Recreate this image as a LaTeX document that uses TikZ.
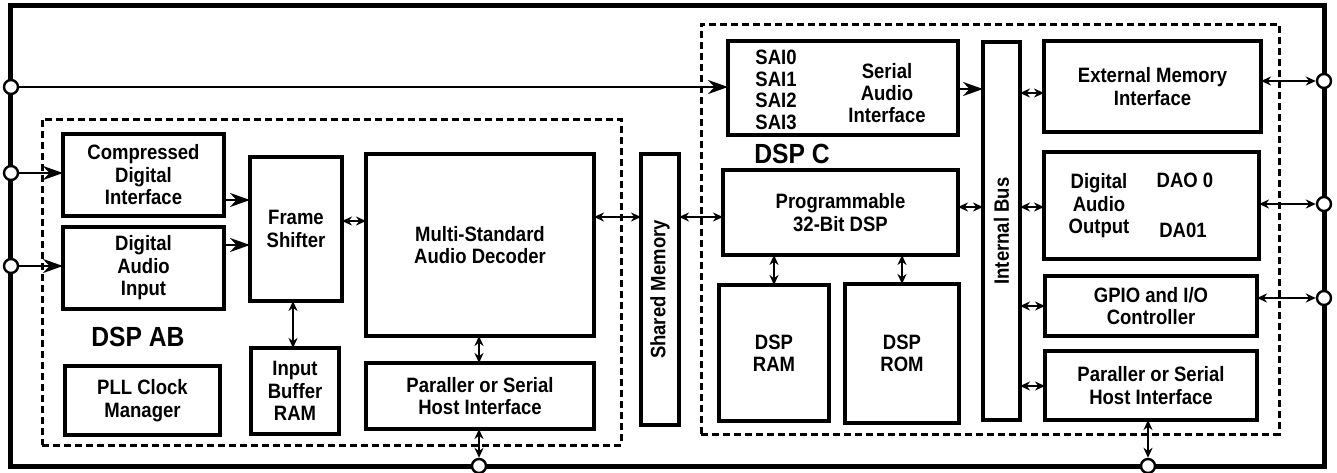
\documentclass[tikz,border=0pt]{standalone}
\usepackage{fontspec}
\usepackage{graphicx}
\setmainfont{Liberation Sans}[FakeStretch=0.89]
\usetikzlibrary{arrows.meta}

\tikzset{
  blk/.style={draw, line width=3.2pt, align=center, inner sep=0pt, outer sep=0pt},
  grp/.style={draw, line width=3pt, dash pattern=on 7pt off 4pt, inner sep=0pt},
  jack/.style={draw, circle, fill=white, line width=2.4pt, minimum size=14pt, inner sep=0pt},
  sig/.style={line width=2.5pt, -{Stealth[length=20pt, width=14pt]}},
  dbl/.style={line width=2.5pt, {Stealth[length=10pt, width=9pt]}-{Stealth[length=10pt, width=9pt]}},
  lbl/.style={font=\fontsize{27.7}{30}\selectfont\bfseries},
}

\begin{document}
\begin{tikzpicture}[x=1pt, y=-1pt, font=\fontsize{20.8}{22.5}\selectfont\bfseries]
        \useasboundingbox (0,0) rectangle (1337,472);

        % Chip outline and core groups
        \node[draw, line width=5pt, inner sep=0pt, minimum width=1314, minimum height=461] (chip) at (667,235.5) {};
        \node[grp, minimum width=579, minimum height=326] (dspab) at (331.5,282) {};
        \node[grp, minimum width=578, minimum height=410] (dspc) at (990,229) {};
        \node[lbl] (dspablbl) at (138,337) {DSP AB};
        \node[lbl] (dspclbl) at (792,154) {DSP C};

        % DSP AB blocks
        \node[blk, minimum width=161, minimum height=82] (cdi) at (143.5,175) {Compressed\\Digital\\Interface};
        \node[blk, minimum width=161, minimum height=82] (dai) at (143.5,268) {Digital\\Audio\\Input};
        \node[blk, minimum width=92, minimum height=144] (frame) at (296,229) {Frame\\Shifter};
        \node[blk, minimum width=228, minimum height=182] (decoder) at (480,245) {Multi-Standard\\Audio Decoder};
        \node[blk, minimum width=88, minimum height=86] (ibuf) at (295,391) {Input\\Buffer\\RAM};
        \node[blk, minimum width=155, minimum height=69] (pll) at (142.5,400.5) {PLL Clock\\Manager};
        \node[blk, minimum width=228, minimum height=66] (hostab) at (480,396) {Paraller or Serial\\Host Interface};
        \node[blk, minimum width=38, minimum height=271] (shmem) at (660,289.5) {\rotatebox{90}{Shared Memory}};

        % DSP C blocks
        \node[blk, minimum width=230, minimum height=94] (sai) at (843,88) {};
        \node[align=center, font=\fontsize{20.8}{21.7}\selectfont\bfseries] (sainames) at (776,90) {SAI0\\SAI1\\SAI2\\SAI3};
        \node[align=center, font=\fontsize{20.8}{21.7}\selectfont\bfseries] (saitext) at (887,93) {Serial\\Audio\\Interface};
        \node[blk, minimum width=235, minimum height=85] (prog) at (840.5,212.5) {Programmable\\32-Bit DSP};
        \node[blk, minimum width=110, minimum height=136] (ram) at (774,353) {DSP\\RAM};
        \node[blk, minimum width=114, minimum height=139] (rom) at (902,353.5) {DSP\\ROM};
        \node[blk, minimum width=37, minimum height=378] (ibus) at (1001.5,231) {\rotatebox{90}{Internal Bus}};
        \node[blk, minimum width=217, minimum height=91] (extmem) at (1152.5,86.5) {External Memory\\Interface};
        \node[blk, minimum width=215, minimum height=107] (dao) at (1151.5,205.5) {};
        \node[align=center] (daotext) at (1099,206) {Digital\\Audio\\Output};
        \node (dao0) at (1185,180) {DAO 0};
        \node (dao1) at (1183,230) {DA01};
        \node[blk, minimum width=212, minimum height=60] (gpio) at (1151,306) {GPIO and I/O\\Controller};
        \node[blk, minimum width=212, minimum height=69] (hostc) at (1151,385.5) {Paraller or Serial\\Host Interface};

        % Pins on the chip outline
        \node[jack] (jl1) at (11,87) {};
        \node[jack] (jl2) at (11,173) {};
        \node[jack] (jl3) at (11,266) {};
        \node[jack] (jr1) at (1324,81) {};
        \node[jack] (jr2) at (1324,204) {};
        \node[jack] (jr3) at (1324,298) {};
        \node[jack] (jb1) at (479,466) {};
        \node[jack] (jb2) at (1148,466) {};

        % Edges
        \draw[sig] (jl1) -- (sai.west |- jl1);
        \draw[sig] (jl2) -- (cdi.west |- jl2);
        \draw[sig] (jl3) -- (dai.west |- jl3);
        \draw[sig] (cdi.east |- 0,200) -- (frame.west |- 0,200);
        \draw[sig] (dai.east |- 0,245) -- (frame.west |- 0,245);
        \draw[dbl] (frame.east |- 0,221) -- (decoder.west |- 0,221);
        \draw[dbl] (frame.south -| 293,0) -- (ibuf.north -| 293,0);
        \draw[dbl] (decoder.south -| jb1) -- (hostab.north -| jb1);
        \draw[dbl] (hostab.south -| jb1) -- (jb1);
        \draw[dbl] (decoder.east |- 0,217) -- (shmem.west |- 0,217);
        \draw[dbl] (shmem.east |- 0,217) -- (prog.west |- 0,217);
        \draw[dbl] (prog.south -| ram) -- (ram.north);
        \draw[dbl] (prog.south -| rom) -- (rom.north);
        \draw[sig] (sai.east |- 0,89) -- (ibus.west |- 0,89);
        \draw[dbl] (prog.east |- 0,207) -- (ibus.west |- 0,207);
        \draw[dbl] (ibus.east |- 0,93) -- (extmem.west |- 0,93);
        \draw[dbl] (ibus.east |- 0,207) -- (dao.west |- 0,207);
        \draw[dbl] (ibus.east |- 0,306) -- (gpio.west |- 0,306);
        \draw[dbl] (ibus.east |- 0,386) -- (hostc.west |- 0,386);
        \draw[dbl] (extmem.east |- jr1) -- (jr1);
        \draw[dbl] (dao.east |- jr2) -- (jr2);
        \draw[dbl] (gpio.east |- jr3) -- (jr3);
        \draw[dbl] (hostc.south -| jb2) -- (jb2);
\end{tikzpicture}
\end{document}
